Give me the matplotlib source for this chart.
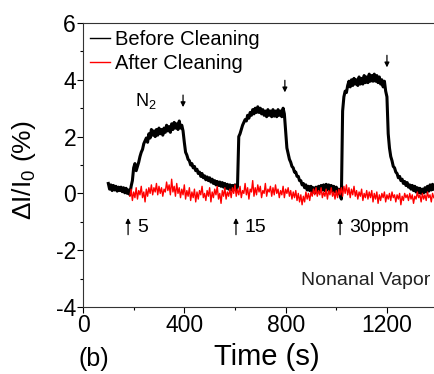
import numpy as np
import matplotlib
matplotlib.use("Agg")
import matplotlib.pyplot as plt
from matplotlib.ticker import MultipleLocator

# ================= DATA =================
# Before cleaning: sampled every 5 s from 100 s
t_before = np.arange(100, 1390, 5)
before = [
    0.35, 0.15, 0.30, 0.10, 0.28, 0.12, 0.25, 0.08, 0.22, 0.10,
    0.22, 0.06, 0.20, 0.02, 0.18, 0.00, 0.12, -0.05, 0.25, 0.45,
    0.90, 1.05, 0.80, 0.95, 1.10, 1.30, 1.45, 1.55, 1.75, 1.85,
    1.95, 1.80, 2.10, 1.95, 2.25, 2.05, 2.20, 2.00, 2.25, 2.05,
    2.30, 2.10, 2.25, 2.05, 2.30, 2.15, 2.40, 2.20, 2.35, 2.15,
    2.45, 2.25, 2.50, 2.30, 2.45, 2.25, 2.55, 2.30, 2.40, 2.20,
    1.80, 1.45, 1.35, 1.20, 1.15, 1.00, 1.05, 0.90, 0.95, 0.80,
    0.85, 0.70, 0.75, 0.60, 0.70, 0.55, 0.62, 0.48, 0.58, 0.45,
    0.55, 0.40, 0.50, 0.35, 0.45, 0.30, 0.42, 0.28, 0.40, 0.25,
    0.38, 0.22, 0.35, 0.18, 0.32, 0.15, 0.30, 0.12, 0.28, 0.15,
    0.30, 0.10, 0.25, 2.00, 2.10, 2.25, 2.40, 2.50, 2.60, 2.55,
    2.75, 2.65, 2.85, 2.75, 2.95, 2.80, 3.00, 2.85, 3.05, 2.85,
    3.00, 2.80, 2.95, 2.75, 2.90, 2.70, 2.95, 2.75, 2.90, 2.70,
    2.95, 2.72, 2.90, 2.70, 2.95, 2.75, 2.90, 2.70, 3.00, 2.80,
    2.20, 1.60, 1.40, 1.20, 1.10, 0.95, 0.90, 0.75, 0.75, 0.60,
    0.60, 0.45, 0.45, 0.30, 0.35, 0.20, 0.30, 0.12, 0.25, 0.10,
    0.25, 0.05, 0.20, 0.02, 0.22, 0.05, 0.25, 0.08, 0.28, 0.12,
    0.30, 0.10, 0.32, 0.12, 0.30, 0.10, 0.28, 0.08, 0.25, 0.05,
    0.22, 0.00, 0.15, -0.05, -0.20, 2.90, 3.40, 3.60, 3.55, 3.80,
    3.95, 3.75, 4.00, 3.80, 4.05, 3.85, 4.00, 3.80, 4.10, 3.85,
    4.05, 3.85, 4.15, 3.90, 4.10, 3.90, 4.20, 3.95, 4.15, 3.95,
    4.20, 3.95, 4.15, 3.90, 4.10, 3.85, 4.00, 3.75, 3.95, 3.60,
    3.40, 2.10, 1.60, 1.30, 1.15, 0.95, 0.90, 0.75, 0.70, 0.55,
    0.60, 0.45, 0.50, 0.35, 0.42, 0.28, 0.38, 0.22, 0.30, 0.15,
    0.28, 0.10, 0.25, 0.05, 0.20, 0.02, 0.18, 0.00, 0.15, 0.02,
    0.20, 0.05, 0.25, 0.08, 0.30, 0.12, 0.32, 0.15,
]

# After cleaning: sampled every 5 s from 185 s
t_after = np.arange(185, 1390, 5)
after = [
    -0.10, 0.15, -0.25, 0.05, -0.15, 0.20, -0.20, 0.10, -0.05, 0.25,
    -0.15, 0.05, -0.30, 0.15, -0.10, 0.20, 0.00, 0.30, -0.05, 0.20,
    0.05, 0.35, -0.05, 0.25, 0.00, 0.20, -0.10, 0.15, 0.05, 0.40,
    0.10, 0.30, -0.05, 0.50, 0.05, 0.25, -0.10, 0.35, 0.00, 0.20,
    -0.15, 0.15, -0.05, 0.30, -0.20, 0.10, -0.10, 0.20, -0.25, 0.05,
    -0.15, 0.15, -0.30, 0.05, -0.20, 0.10, -0.05, 0.25, -0.15, 0.00,
    -0.25, 0.10, -0.10, 0.20, -0.30, 0.05, -0.15, 0.15, -0.05, 0.25,
    -0.20, 0.00, -0.35, 0.10, -0.10, 0.20, -0.20, 0.05, -0.10, 0.15,
    -0.15, 0.20, 0.00, 0.30, -0.10, 0.15, -0.05, 0.25, -0.15, 0.10,
    0.00, 0.35, -0.05, 0.20, -0.20, 0.15, 0.05, 0.45, -0.10, 0.20,
    -0.05, 0.30, 0.05, 0.25, -0.15, 0.10, 0.00, 0.35, -0.10, 0.15,
    0.05, 0.25, -0.10, 0.20, -0.05, 0.30, 0.00, 0.15, -0.15, 0.10,
    -0.05, 0.25, -0.15, 0.15, 0.00, 0.20, -0.10, 0.10, -0.20, 0.05,
    -0.15, 0.10, -0.25, 0.00, -0.30, -0.05, -0.40, -0.10, -0.30, 0.05,
    -0.20, 0.00, -0.25, 0.05, -0.10, 0.15, -0.05, 0.20, -0.10, 0.10,
    -0.05, 0.20, -0.15, 0.05, -0.10, 0.15, -0.20, 0.10, -0.05, 0.20,
    -0.10, 0.05, -0.20, 0.10, -0.15, 0.15, -0.05, 0.20, -0.10, 0.25,
    0.00, 0.30, -0.05, 0.20, -0.15, 0.15, -0.05, 0.25, -0.10, 0.10,
    -0.20, 0.05, -0.10, 0.15, -0.25, 0.00, -0.15, 0.10, -0.20, 0.05,
    -0.15, 0.10, -0.30, 0.00, -0.20, 0.05, -0.35, -0.05, -0.25, 0.00,
    -0.15, 0.05, -0.30, -0.05, -0.20, 0.00, -0.25, 0.05, -0.15, -0.05,
    -0.30, -0.05, -0.20, 0.00, -0.40, -0.10, -0.25, 0.00, -0.15, -0.05,
    -0.25, 0.00, -0.20, -0.05, -0.35, -0.10, -0.20, 0.05, -0.15, -0.05,
    -0.30, 0.00, -0.20, -0.05, -0.25, 0.05, -0.15, -0.05, -0.30, 0.00,
    -0.15,
]

# injection (up arrows) and purge (down arrows) times, concentration labels
inject_times = [178, 604, 1015]
inject_labels = ["5", "15", "30ppm"]
purge_times = [395, 797, 1200]
purge_tops = [3.56, 4.08, 4.96]

# ================= PLOT =================
plt.rcParams["font.family"] = ["Liberation Sans", "DejaVu Sans"]
plt.rcParams["mathtext.fontset"] = "custom"
plt.rcParams["mathtext.rm"] = "Liberation Sans"
plt.rcParams["axes.unicode_minus"] = False

fig = plt.figure(figsize=(4.34, 3.74), dpi=100)
ax = fig.add_axes([83 / 434, 67 / 374, 354.6 / 434, 284 / 374])

ax.plot(t_before, before, color="black", lw=2.2, label="Before Cleaning")
ax.plot(t_after, after, color="red", lw=1.0, label="After Cleaning")

ax.set_xlim(0, 1400)
ax.set_ylim(-4, 6)
ax.xaxis.set_major_locator(MultipleLocator(400))
ax.xaxis.set_minor_locator(MultipleLocator(200))
ax.yaxis.set_major_locator(MultipleLocator(2))
ax.yaxis.set_minor_locator(MultipleLocator(1))
ax.tick_params(which="major", direction="out", length=4, width=0.8, labelsize=16.5, pad=1)
ax.tick_params(which="minor", direction="out", length=2, width=0.8)
ax.spines["right"].set_visible(False)
for s in ax.spines.values():
    s.set_linewidth(0.8)
    s.set_color("#333333")

ax.set_ylabel(r"$\Delta$I/I$_{\mathrm{0}}$ (%)", fontsize=19, va="center")
ax.yaxis.set_label_coords(-0.166, 0.482)
ax.set_xlabel("Time (s)", fontsize=21, va="center")
ax.xaxis.set_label_coords(0.519, -0.176)
fig.text(78 / 434, 1 - 359 / 374, "(b)", fontsize=18, va="center", ha="left")

leg = ax.legend(loc="upper left", bbox_to_anchor=(0.02, 0.975), frameon=False,
                fontsize=14.5, handlelength=1.0, handletextpad=0.25,
                labelspacing=0.25, borderaxespad=0, borderpad=0)
for line in leg.get_lines():
    line.set_linewidth(1.0)

# arrows
for t, top in zip(purge_times, purge_tops):
    ax.annotate("", xy=(t, top - 0.62), xytext=(t, top),
                arrowprops=dict(arrowstyle="-|>", color="black", lw=0.9,
                                mutation_scale=7))
for t, lab in zip(inject_times, inject_labels):
    ax.annotate("", xy=(t, -0.77), xytext=(t, -1.55),
                arrowprops=dict(arrowstyle="-|>", color="black", lw=0.9,
                                mutation_scale=7))
    ax.text(t + 35, -1.2, lab, fontsize=14, va="center", ha="left")

ax.text(205, 3.24, r"N$_{\mathrm{2}}$", fontsize=13, ha="left", va="center")
ax.text(1370, -3.06, "Nonanal Vapor", fontsize=14, ha="right", va="center",
        color="#222222")

fig.savefig("out.png", dpi=100)
